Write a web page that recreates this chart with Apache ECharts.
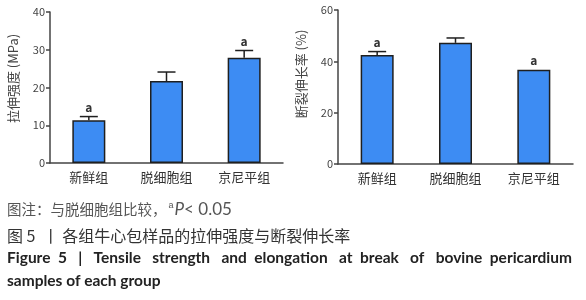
<!DOCTYPE html>
<html>
<head>
<meta charset="utf-8">
<script src="https://cdn.jsdelivr.net/npm/echarts@6/dist/echarts.min.js"></script>
<style>
  html, body { margin: 0; padding: 0; background: #fff; }
  #main { width: 586px; height: 300px; }
</style>
</head>
<body>
<div id="main"></div>
<script>
var groups = ['新鲜组', '脱细胞组', '京尼平组'];
var strength = [11.3, 21.7, 27.9];
var strengthTop = [12.3, 24.1, 29.8];
var strengthMark = ['a', '', 'a'];
var elongation = [42.5, 47.2, 36.7];
var elongationTop = [43.8, 49.1, 36.7];
var elongationMark = ['a', '', 'a'];

var FONT = '"Noto Sans CJK SC", "Noto Sans", sans-serif';
var barFill = '#3d8cf3';
var edge = '#1f1f1f';
var axisCol = '#444';

function errBars(tops, means, marks, xi, yi) {
    return {
        type: 'custom',
        xAxisIndex: xi,
        yAxisIndex: yi,
        z: 5,
        data: tops.map(function (v, i) { return [i, v]; }),
        renderItem: function (params, api) {
            var i = api.value(0);
            var p = api.coord([i, api.value(1)]);
            var base = api.coord([i, means[i]]);
            var hw = 9;
            var children = [];
            if (api.value(1) > means[i]) {
                children.push(
                    { type: 'line', shape: { x1: p[0], y1: p[1], x2: p[0], y2: base[1] },
                      style: { stroke: edge, lineWidth: 1.5 } },
                    { type: 'line', shape: { x1: p[0] - hw, y1: p[1], x2: p[0] + hw, y2: p[1] },
                      style: { stroke: edge, lineWidth: 1.5 } }
                );
            }
            if (marks[i]) {
                children.push({ type: 'text', x: p[0], y: p[1] - 3,
                    style: { text: marks[i], fill: '#333', font: 'bold 12px ' + FONT,
                             align: 'center', verticalAlign: 'bottom' } });
            }
            return { type: 'group', children: children };
        }
    };
}

function catAxis(gi) {
    return {
        type: 'category', gridIndex: gi, data: groups,
        axisLine: { lineStyle: { color: axisCol, width: 1.5 } },
        axisTick: { alignWithLabel: true, length: 4, lineStyle: { color: axisCol, width: 1.5 } },
        axisLabel: { color: '#333', fontSize: 13, fontFamily: FONT, margin: 8 }
    };
}

function valAxis(gi, max, step, name, shift) {
    return {
        type: 'value', gridIndex: gi, min: 0, max: max, interval: step,
        name: name, nameLocation: 'middle', nameGap: 30,
        nameTextStyle: { color: '#444', fontSize: 13, fontFamily: FONT, padding: [0, 0, 0, shift] },
        axisLine: { show: true, lineStyle: { color: axisCol, width: 1.5 } },
        axisTick: { show: true, length: 4, lineStyle: { color: axisCol, width: 1.5 } },
        axisLabel: { color: '#444', fontSize: 11, fontFamily: FONT, margin: 5 },
        splitLine: { show: false }
    };
}

var option = {
    animation: false,
    grid: [
        { left: 50, right: 303, top: 12, bottom: 137 },
        { left: 338, right: 13, top: 10, bottom: 136 }
    ],
    xAxis: [catAxis(0), catAxis(1)],
    yAxis: [valAxis(0, 40, 10, '拉伸强度 (MPa)', 18), valAxis(1, 60, 20, '断裂伸长率 (%)', 26)],
    series: [
        { type: 'bar', xAxisIndex: 0, yAxisIndex: 0, data: strength, barWidth: 33,
          itemStyle: { color: barFill, borderColor: edge, borderWidth: 1.5 } },
        { type: 'bar', xAxisIndex: 1, yAxisIndex: 1, data: elongation, barWidth: 33,
          itemStyle: { color: barFill, borderColor: edge, borderWidth: 1.5 } },
        errBars(strengthTop, strength, strengthMark, 0, 0),
        errBars(elongationTop, elongation, elongationMark, 1, 1)
    ],
    graphic: [
        { type: 'text', left: 7, top: 201,
          style: { text: '图注：与脱细胞组比较，{sup|a}{it|P}{lat|< 0.05}',
                   fill: '#555', font: '14.5px ' + FONT,
                   rich: { sup: { fontSize: 9, verticalAlign: 'top', fill: '#555', padding: [0, 1, 7, 2] },
                           it: { fontStyle: 'italic', fontSize: 17, fill: '#555', fontFamily: 'Lato' },
                           lat: { fontSize: 17, fill: '#555', fontFamily: 'Lato' } } } },
        { type: 'text', left: 7, top: 228,
          style: { text: '图 5  丨 各组牛心包样品的拉伸强度与断裂伸长率', fill: '#333', font: '16px ' + FONT } },
        { type: 'text', left: 7, top: 250,
          style: { text: 'Figure  5   |   Tensile   strength   and  elongation   at  break   of   bovine  pericardium',
                   fill: '#222', font: 'bold 15.5px Lato, sans-serif' } },
        { type: 'text', left: 7, top: 273,
          style: { text: 'samples of each group', fill: '#222', font: 'bold 15.5px Lato, sans-serif' } }
    ]
};

var chart = echarts.init(document.getElementById('main'));
chart.setOption(option);
</script>
</body>
</html>
